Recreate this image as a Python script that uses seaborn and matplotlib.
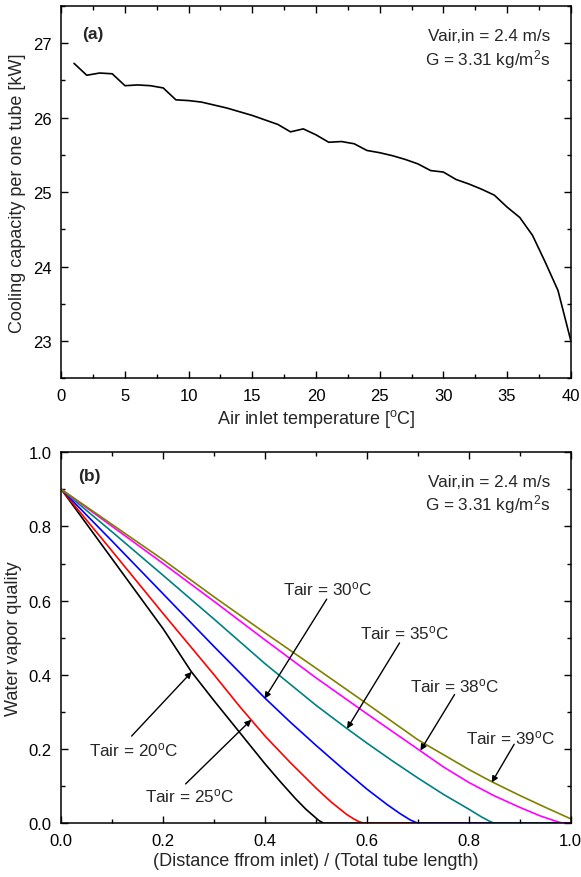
import matplotlib
matplotlib.use("Agg")
import matplotlib.pyplot as plt
from matplotlib.ticker import MultipleLocator
import seaborn as sns
import pandas as pd

# ---------------- data ----------------
# Panel (a): cooling capacity vs air inlet temperature
air_temp = [1, 2, 3, 4, 5, 6, 7, 8, 9, 10, 11, 12, 13, 14, 15, 16, 17, 18, 19, 20,
            21, 22, 23, 24, 25, 26, 27, 28, 29, 30, 31, 32, 33, 34, 35, 36, 37, 38, 39, 40]
capacity = [26.73, 26.57, 26.60, 26.59, 26.43, 26.44, 26.43, 26.40, 26.24, 26.23,
            26.21, 26.17, 26.13, 26.08, 26.03, 25.97, 25.91, 25.81, 25.85, 25.77,
            25.67, 25.68, 25.65, 25.56, 25.53, 25.49, 25.44, 25.38, 25.29, 25.27,
            25.17, 25.11, 25.04, 24.96, 24.80, 24.66, 24.42, 24.06, 23.68, 23.01]

# Panel (b): water vapor quality vs normalised distance
x20 = [0.0, 0.1, 0.2, 0.255, 0.3, 0.35, 0.4, 0.43, 0.46, 0.48, 0.495, 0.505, 0.515, 1.0]
q20 = [0.9, 0.712, 0.524, 0.409, 0.33, 0.245, 0.16, 0.112, 0.066, 0.038, 0.02, 0.008, 0.0, 0.0]
x25 = [0.0, 0.1, 0.2, 0.3, 0.35, 0.4, 0.45, 0.5, 0.53, 0.56, 0.575, 0.585, 0.595, 1.0]
q25 = [0.9, 0.733, 0.565, 0.40, 0.315, 0.235, 0.163, 0.095, 0.057, 0.024, 0.011, 0.004, 0.0, 0.0]
x30 = [0.0, 0.1, 0.2, 0.3, 0.4, 0.45, 0.5, 0.55, 0.6, 0.64, 0.665, 0.685, 0.70, 1.0]
q30 = [0.9, 0.76, 0.618, 0.476, 0.337, 0.272, 0.21, 0.15, 0.092, 0.05, 0.026, 0.009, 0.0, 0.0]
x35 = [0.0, 0.1, 0.2, 0.3, 0.4, 0.5, 0.56, 0.6, 0.65, 0.7, 0.75, 0.8, 0.825, 0.84, 0.85, 1.0]
q35 = [0.9, 0.785, 0.668, 0.55, 0.43, 0.318, 0.256, 0.216, 0.168, 0.122, 0.078, 0.038, 0.017, 0.006, 0.0, 0.0]
x38 = [0.0, 0.1, 0.2, 0.3, 0.4, 0.5, 0.6, 0.704, 0.75, 0.8, 0.85, 0.9, 0.94, 0.97, 0.985, 1.0]
q38 = [0.9, 0.80, 0.70, 0.598, 0.494, 0.392, 0.295, 0.196, 0.152, 0.11, 0.074, 0.043, 0.02, 0.006, 0.0, 0.0]
x39 = [0.0, 0.1, 0.2, 0.3, 0.4, 0.5, 0.6, 0.7, 0.75, 0.8, 0.845, 0.9, 0.95, 1.0]
q39 = [0.9, 0.805, 0.71, 0.61, 0.513, 0.418, 0.322, 0.225, 0.185, 0.145, 0.112, 0.075, 0.043, 0.012]

series_labels = ["20", "25", "30", "35", "38", "39"]
series_colors = ["#000000", "#ff0000", "#0000ff", "#008080", "#ff00ff", "#808000"]

# annotation positions (data coords): label text, text xy, arrow tail, arrow tip
ann_text = ["Tair = 20$^\\mathrm{o}$C", "Tair = 25$^\\mathrm{o}$C", "Tair = 30$^\\mathrm{o}$C",
            "Tair = 35$^\\mathrm{o}$C", "Tair = 38$^\\mathrm{o}$C", "Tair = 39$^\\mathrm{o}$C"]
ann_text_xy = [(0.142, 0.198), (0.252, 0.076), (0.522, 0.632), (0.673, 0.515), (0.772, 0.372), (0.881, 0.231)]
ann_tail = [(0.138, 0.235), (0.244, 0.106), (0.521, 0.604), (0.664, 0.486), (0.772, 0.347), (0.889, 0.213)]
ann_tip = [(0.256, 0.408), (0.373, 0.279), (0.399, 0.336), (0.561, 0.255), (0.705, 0.196), (0.845, 0.110)]

# ---------------- style ----------------
sns.set_theme(style="ticks")
plt.rcParams["font.family"] = ["Liberation Sans", "DejaVu Sans"]
plt.rcParams["mathtext.fontset"] = "custom"
plt.rcParams["mathtext.rm"] = "Liberation Sans"
plt.rcParams["mathtext.it"] = "Liberation Sans:italic"
plt.rcParams["mathtext.bf"] = "Liberation Sans:bold"
plt.rcParams["axes.linewidth"] = 1.1
plt.rcParams["axes.edgecolor"] = "black"

fig = plt.figure(figsize=(5.81, 8.78), dpi=100)
ax1 = fig.add_axes([0.1055, 0.568, 0.8768, 0.424])
ax2 = fig.add_axes([0.1055, 0.0612, 0.8768, 0.4226])

TICK_FS = 12
LABEL_FS = 13
TEXT_FS = 12.3
TAG_FS = 12.5


def style_axes(ax):
    ax.tick_params(which="both", direction="in", top=True, right=True,
                   labelsize=TICK_FS, colors="black", width=1.0, pad=7)
    ax.tick_params(which="major", length=5)
    ax.tick_params(which="minor", length=3)
    for s in ax.spines.values():
        s.set_visible(True)
        s.set_color("black")
        s.set_linewidth(1.1)
        s.set_zorder(5)


# ---------------- panel (a) ----------------
df_a = pd.DataFrame({"T": air_temp, "Q": capacity})
sns.lineplot(data=df_a, x="T", y="Q", ax=ax1, color="black", linewidth=1.2)
ax1.set_xlim(0, 40)
ax1.set_ylim(22.5, 27.5)
ax1.xaxis.set_major_locator(MultipleLocator(5))
ax1.xaxis.set_minor_locator(MultipleLocator(2.5))
ax1.yaxis.set_major_locator(MultipleLocator(1))
ax1.yaxis.set_minor_locator(MultipleLocator(0.5))
ax1.set_xlabel("Air inlet temperature [$^\\mathrm{o}$C]", fontsize=LABEL_FS, labelpad=3)
ax1.set_ylabel("Cooling capacity per one tube [kW]", fontsize=LABEL_FS, labelpad=5)
style_axes(ax1)
ax1.text(1.6, 27.13, "(a)", fontsize=TAG_FS, fontweight="bold", va="center", ha="left")
ax1.text(38.37, 27.10, "Vair,in = 2.4 m/s", fontsize=TEXT_FS, va="center", ha="right")
ax1.text(38.37, 26.80, "G = 3.31 kg/m$^\\mathrm{2}$s", fontsize=TEXT_FS, va="center", ha="right")

# ---------------- panel (b) ----------------
xs = [x20, x25, x30, x35, x38, x39]
qs = [q20, q25, q30, q35, q38, q39]
frames = []
for lab, xv, qv in zip(series_labels, xs, qs):
    frames.append(pd.DataFrame({"x": xv, "q": qv, "Tair": lab}))
df_b = pd.concat(frames, ignore_index=True)
sns.lineplot(data=df_b, x="x", y="q", hue="Tair", hue_order=series_labels,
             palette=series_colors, ax=ax2, linewidth=1.2, legend=False,
             sort=False, estimator=None)
ax2.set_xlim(0, 1)
ax2.set_ylim(0, 1)
ax2.xaxis.set_major_locator(MultipleLocator(0.2))
ax2.xaxis.set_minor_locator(MultipleLocator(0.1))
ax2.yaxis.set_major_locator(MultipleLocator(0.2))
ax2.yaxis.set_minor_locator(MultipleLocator(0.1))
ax2.set_xlabel("(Distance ffrom inlet) / (Total tube length)", fontsize=LABEL_FS, labelpad=3)
ax2.set_ylabel("Water vapor quality", fontsize=LABEL_FS, labelpad=5)
style_axes(ax2)
ax2.text(0.033, 0.937, "(b)", fontsize=TAG_FS, fontweight="bold", va="center", ha="left")
ax2.text(0.96, 0.922, "Vair,in = 2.4 m/s", fontsize=TEXT_FS, va="center", ha="right")
ax2.text(0.96, 0.862, "G = 3.31 kg/m$^\\mathrm{2}$s", fontsize=TEXT_FS, va="center", ha="right")

for txt, txy, tail, tip in zip(ann_text, ann_text_xy, ann_tail, ann_tip):
    ax2.text(txy[0], txy[1], txt, fontsize=TEXT_FS, ha="center", va="center")
    ax2.annotate("", xy=tip, xytext=tail,
                 arrowprops=dict(arrowstyle="-|>", color="black", lw=1.0,
                                 mutation_scale=9, shrinkA=0, shrinkB=0))

fig.savefig("out.png", dpi=100)
